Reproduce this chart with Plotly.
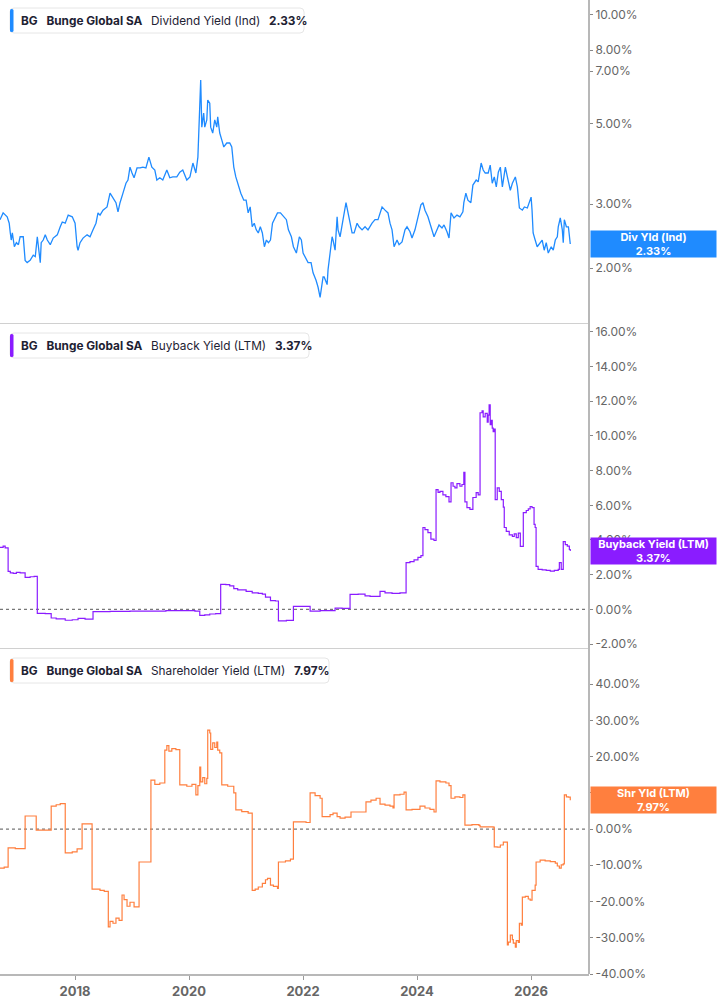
import math
import plotly.graph_objects as go

# ---------------- data ----------------
div_dates = [
    "2016-09-07","2016-09-27","2016-10-23","2016-11-05","2016-11-12","2016-11-18","2016-11-25","2016-12-08","2016-12-21",
    "2017-01-03","2017-01-14","2017-02-03","2017-02-15","2017-02-28","2017-03-19","2017-04-08","2017-04-21","2017-05-04",
    "2017-05-23","2017-05-29","2017-06-11","2017-06-24","2017-07-07","2017-07-26","2017-08-14","2017-09-09","2017-09-28",
    "2017-10-11","2017-10-30","2017-11-18","2017-12-14","2018-01-01","2018-01-14","2018-01-20","2018-02-02","2018-02-21",
    "2018-03-19","2018-04-07","2018-04-26","2018-05-15","2018-05-28","2018-06-10","2018-06-29","2018-07-25","2018-08-13",
    "2018-09-01","2018-09-20","2018-10-03","2018-10-16","2018-11-04","2018-11-23","2018-12-06","2018-12-19","2019-01-01",
    "2019-01-14","2019-02-02","2019-02-21","2019-03-12","2019-03-31","2019-04-19","2019-05-08","2019-05-27","2019-06-09",
    "2019-06-28","2019-07-17","2019-08-12","2019-08-31","2019-09-19","2019-10-15","2019-11-03","2019-11-22","2019-12-18",
    "2020-01-07","2020-01-26","2020-02-14","2020-02-27","2020-03-07","2020-03-16","2020-03-23","2020-04-04","2020-04-11",
    "2020-04-24","2020-04-30","2020-05-13","2020-05-19","2020-06-01","2020-06-14","2020-06-27","2020-07-03","2020-07-16",
    "2020-07-29","2020-08-11","2020-08-30","2020-09-18","2020-10-01","2020-10-14","2020-10-27","2020-11-15","2020-11-28",
    "2020-12-17","2021-01-01","2021-01-14","2021-01-27","2021-02-09","2021-02-22","2021-03-07","2021-03-20","2021-04-02",
    "2021-04-15","2021-04-28","2021-05-11","2021-05-24","2021-06-06","2021-06-19","2021-07-08","2021-07-21","2021-08-09",
    "2021-08-28","2021-09-16","2021-09-29","2021-10-18","2021-10-31","2021-11-19","2021-12-08","2021-12-21","2022-01-01",
    "2022-01-14","2022-02-02","2022-02-21","2022-03-06","2022-03-25","2022-04-07","2022-04-20","2022-05-03","2022-05-09",
    "2022-05-16","2022-05-29","2022-06-04","2022-06-10","2022-06-23","2022-07-06","2022-07-12","2022-07-25","2022-08-07",
    "2022-08-13","2022-08-26","2022-09-08","2022-09-14","2022-10-03","2022-10-16","2022-10-29","2022-11-11","2022-11-24",
    "2022-12-13","2022-12-26","2023-01-14","2023-02-02","2023-02-21","2023-03-19","2023-04-07","2023-04-26","2023-05-09",
    "2023-05-22","2023-06-10","2023-06-29","2023-07-12","2023-07-25","2023-08-07","2023-08-26","2023-09-08","2023-09-27",
    "2023-10-16","2023-10-29","2023-11-17","2023-11-30","2023-12-19","2024-01-07","2024-01-26","2024-02-08","2024-02-21",
    "2024-03-11","2024-04-06","2024-04-19","2024-05-08","2024-05-21","2024-06-09","2024-06-22","2024-07-11","2024-07-24",
    "2024-08-06","2024-08-25","2024-09-13","2024-10-02","2024-10-21","2024-10-27","2024-11-09","2024-11-22","2024-12-11",
    "2024-12-24","2025-01-14","2025-01-27","2025-02-15","2025-02-28","2025-03-13","2025-04-01","2025-04-14","2025-04-27",
    "2025-05-10","2025-05-23","2025-06-05","2025-06-18","2025-07-01","2025-07-20","2025-08-02","2025-08-21","2025-09-03",
    "2025-09-22","2025-10-05","2025-10-18","2025-11-06","2025-11-19","2025-12-08","2025-12-21","2026-01-01","2026-01-07",
    "2026-01-14","2026-01-27","2026-02-09","2026-03-13","2026-03-26","2026-04-08","2026-04-21","2026-05-10","2026-05-23",
    "2026-06-05","2026-06-18","2026-06-24","2026-07-07","2026-07-20","2026-07-26","2026-08-02","2026-08-15","2026-08-28",
    "2026-09-03","2026-09-09",
]
div_yield = [
    2.72,2.84,2.77,2.66,2.50,2.39,2.50,2.29,2.35,
    2.32,2.44,2.44,2.10,2.07,2.10,2.17,2.15,2.44,
    2.07,2.35,2.39,2.47,2.39,2.32,2.42,2.47,2.60,
    2.68,2.66,2.80,2.77,2.66,2.29,2.24,2.35,2.42,
    2.47,2.44,2.55,2.66,2.84,2.80,2.89,2.95,3.22,
    3.12,3.03,2.86,3.03,3.22,3.43,3.50,3.80,3.66,
    3.55,3.78,3.78,3.80,3.78,4.05,3.80,3.73,3.50,
    3.55,3.50,3.73,3.55,3.57,3.57,3.68,3.73,3.50,
    3.57,3.90,3.66,4.05,5.47,6.61,4.90,5.36,4.90,
    5.13,5.82,5.71,4.90,4.72,5.13,4.90,5.23,4.72,
    4.52,4.32,4.43,4.43,4.32,3.80,3.57,3.35,3.22,
    3.08,3.08,2.84,2.95,2.60,2.66,2.55,2.50,2.60,
    2.50,2.29,2.39,2.35,2.39,2.66,2.77,2.84,2.84,
    2.77,2.72,2.55,2.44,2.29,2.20,2.44,2.39,2.20,
    2.15,2.07,2.07,1.94,1.85,1.77,1.66,1.82,1.89,
    1.89,1.82,1.80,1.98,2.20,2.44,2.39,2.24,2.77,
    2.55,2.44,2.66,2.72,3.03,2.84,2.72,2.50,2.50,
    2.66,2.60,2.55,2.60,2.55,2.66,2.72,2.72,2.84,
    2.95,2.89,2.84,2.66,2.55,2.29,2.39,2.32,2.36,
    2.55,2.60,2.52,2.42,2.55,2.77,2.99,3.03,2.89,
    2.77,2.55,2.44,2.55,2.63,2.58,2.63,2.52,2.42,
    2.84,2.75,2.80,2.77,2.86,3.03,3.22,3.08,3.03,
    3.39,3.50,3.46,3.90,3.73,3.66,3.66,3.85,3.43,
    3.57,3.35,3.68,3.80,3.35,3.80,3.57,3.28,3.43,
    3.57,3.35,2.93,2.89,2.95,2.93,3.05,3.14,2.89,
    2.50,2.39,2.29,2.39,2.24,2.35,2.20,2.29,2.24,
    2.39,2.44,2.60,2.75,2.55,2.35,2.72,2.60,2.60,
    2.44,2.33,
]

bb_dates = [
    "2016-09-07","2016-09-27","2016-10-10","2016-10-29","2016-11-12","2016-12-01","2016-12-21","2017-01-14","2017-02-15",
    "2017-03-19","2017-04-14","2017-05-04","2017-06-24","2017-08-01","2017-09-02","2017-10-30","2017-12-14","2018-01-20",
    "2018-03-06","2018-04-26","2018-08-13","2018-12-19","2019-04-25","2019-08-06","2019-12-12","2020-02-08","2020-03-10",
    "2020-04-11","2020-05-13","2020-06-20","2020-07-22","2020-08-24","2020-09-18","2020-10-14","2020-11-08","2021-01-01",
    "2021-02-09","2021-03-20","2021-04-15","2021-05-05","2021-06-06","2021-07-08","2021-07-27","2021-09-16","2021-10-31",
    "2021-12-15","2022-02-15","2022-04-20","2022-07-25","2022-09-08","2022-10-29","2022-12-20","2023-02-02","2023-03-06",
    "2023-04-20","2023-05-09","2023-06-10","2023-07-25","2023-09-14","2023-10-23","2023-11-17","2023-12-13","2024-01-07",
    "2024-01-26","2024-02-08","2024-02-21","2024-03-11","2024-03-30","2024-04-19","2024-05-02","2024-05-15","2024-05-27",
    "2024-06-15","2024-07-04","2024-07-24","2024-08-06","2024-08-19","2024-08-31","2024-09-13","2024-10-02","2024-10-15",
    "2024-10-27","2024-11-03","2024-11-16","2024-12-05","2024-12-24","2025-01-14","2025-01-27","2025-02-08","2025-02-21",
    "2025-02-28","2025-03-13","2025-03-26","2025-04-01","2025-04-07","2025-04-14","2025-04-20","2025-04-27","2025-05-03",
    "2025-05-10","2025-05-16","2025-05-29","2025-06-11","2025-06-24","2025-07-07","2025-07-13","2025-07-26","2025-08-14",
    "2025-09-03","2025-09-15","2025-09-28","2025-10-11","2025-10-24","2025-11-12","2025-12-01","2025-12-14","2025-12-26",
    "2026-01-07","2026-01-20","2026-01-27","2026-02-02","2026-02-15","2026-03-13","2026-04-08","2026-05-04","2026-05-30",
    "2026-06-24","2026-07-01","2026-07-13","2026-07-26","2026-08-08","2026-08-21","2026-09-03","2026-09-09",
]
bb_yield = [
    3.57,3.65,3.55,2.19,2.10,2.07,2.13,2.10,1.84,
    1.88,1.90,-0.23,-0.25,-0.50,-0.55,-0.63,-0.60,-0.52,
    -0.57,-0.13,-0.12,-0.10,-0.10,-0.08,-0.08,-0.10,-0.35,
    -0.32,-0.27,-0.25,1.44,1.42,1.35,1.20,1.12,1.04,
    0.95,0.92,0.88,0.71,0.50,0.48,-0.67,-0.64,0.17,
    0.17,-0.10,-0.08,0.07,0.05,0.86,0.88,0.78,0.75,
    0.75,1.04,0.95,0.92,0.95,2.70,2.75,2.85,3.00,
    3.10,4.72,4.60,4.43,4.05,3.97,6.90,6.75,6.80,
    6.60,6.50,6.20,7.30,7.10,7.00,7.25,7.10,7.20,
    7.90,6.20,5.87,5.76,6.45,6.73,6.60,11.34,11.45,
    11.10,11.30,10.80,11.20,11.80,10.65,10.90,10.45,10.25,
    10.40,6.33,7.00,6.80,6.33,5.90,4.72,4.50,4.30,
    4.20,4.35,4.14,4.40,3.63,5.58,5.70,5.80,5.93,
    5.87,4.90,4.72,2.48,2.30,2.28,2.25,2.20,2.25,
    2.30,2.70,2.30,3.90,3.73,3.65,3.45,3.37,
]

sh_dates = [
    "2016-09-07","2016-10-04","2016-10-29","2016-12-14","2017-02-15","2017-04-27","2017-08-01","2017-09-02","2017-09-28",
    "2017-10-30","2017-12-14","2018-01-14","2018-02-15","2018-04-20","2018-06-10","2018-07-07","2018-08-02","2018-08-13",
    "2018-09-01","2018-09-20","2018-10-10","2018-10-29","2018-11-11","2018-11-30","2018-12-19","2019-01-14","2019-02-15",
    "2019-05-02","2019-05-27","2019-06-28","2019-07-30","2019-08-12","2019-08-25","2019-09-13","2019-10-09","2019-11-03",
    "2019-12-18","2020-01-20","2020-02-14","2020-02-27","2020-03-10","2020-03-16","2020-03-29","2020-04-11","2020-04-24",
    "2020-04-30","2020-05-13","2020-05-19","2020-06-01","2020-06-14","2020-06-27","2020-07-03","2020-07-16","2020-07-29",
    "2020-09-05","2020-10-14","2020-10-27","2020-12-04","2021-01-14","2021-02-09","2021-02-28","2021-03-20","2021-04-15",
    "2021-05-05","2021-05-18","2021-06-06","2021-06-25","2021-07-21","2021-07-27","2021-09-10","2021-10-12","2021-10-31",
    "2021-12-21","2022-01-20","2022-02-15","2022-03-19","2022-04-20","2022-05-03","2022-06-23","2022-07-12","2022-08-07",
    "2022-08-26","2022-09-27","2022-11-04","2023-01-01","2023-02-08","2023-03-12","2023-04-14","2023-05-09","2023-06-10",
    "2023-07-12","2023-07-31","2023-08-07","2023-09-14","2023-10-10","2023-10-23","2023-11-30","2024-01-20","2024-02-21",
    "2024-03-24","2024-04-19","2024-05-02","2024-05-27","2024-07-04","2024-07-24","2024-08-06","2024-08-31","2024-10-02",
    "2024-10-21","2024-11-03","2024-12-18","2025-02-01","2025-02-08","2025-05-03","2025-05-10","2025-05-29","2025-06-18",
    "2025-07-07","2025-08-02","2025-08-08","2025-08-21","2025-09-03","2025-09-09","2025-09-22","2025-09-28","2025-10-11",
    "2025-10-18","2025-10-30","2025-11-06","2025-11-25","2025-12-14","2025-12-26","2026-01-07","2026-01-27","2026-02-02",
    "2026-02-28","2026-04-01","2026-05-04","2026-06-05","2026-06-18","2026-07-01","2026-07-13","2026-07-26","2026-08-02",
    "2026-08-15","2026-08-28","2026-09-09",
]
sh_yield = [
    -10.8,-10.5,-5.2,-5.4,3.6,-0.3,6.3,6.7,7.0,
    -6.6,-6.3,-5.5,1.4,-16.6,-16.9,-17.2,-27.0,-25.5,
    -26.0,-24.6,-25.2,-18.2,-19.5,-21.3,-20.2,-21.5,-9.1,
    13.5,12.3,12.7,21.8,23.0,21.5,22.2,21.9,12.2,
    11.8,12.3,9.4,12.0,17.1,13.0,14.2,12.5,14.0,
    27.3,26.5,22.0,23.8,22.5,24.0,21.8,21.0,12.2,
    11.8,10.0,5.3,4.8,4.4,-16.9,-16.6,-16.0,-15.0,
    -14.0,-13.6,-15.5,-15.8,-16.4,-9.1,-8.8,-8.3,2.0,
    2.0,1.8,10.0,9.2,8.5,3.4,4.0,4.4,3.4,
    3.0,3.3,4.7,4.7,7.5,8.0,8.5,6.9,6.6,
    6.3,5.8,9.4,9.6,10.2,5.3,5.4,6.3,5.8,
    5.4,4.7,13.3,13.0,12.7,12.0,8.5,8.9,8.7,
    9.4,1.1,1.2,1.0,0.6,0.5,-4.9,-5.0,-4.4,
    -3.6,-32.0,-31.2,-29.3,-30.5,-31.5,-32.6,-30.8,-31.3,
    -26.0,-26.5,-18.8,-18.6,-19.3,-19.6,-16.9,-15.5,-9.1,
    -8.6,-8.8,-9.0,-9.4,-10.2,-10.8,-9.9,-9.6,9.4,
    8.9,8.8,7.97,
]

x_tick_dates = ["2018-01-01", "2020-01-01", "2022-01-01", "2024-01-01", "2026-01-01"]
x_tick_labels = ["2018", "2020", "2022", "2024", "2026"]
div_ticks = [2, 3, 5, 7, 8, 10]
bb_ticks = [-2, 0, 2, 4, 6, 8, 10, 12, 14, 16]
sh_ticks = [-40, -30, -20, -10, 0, 10, 20, 30, 40]

ticker = "BG"
company = "Bunge Global SA"
panels = [
    ("Dividend Yield (Ind)", "Div Yld (Ind)"),
    ("Buyback Yield (LTM)", "Buyback Yield (LTM)"),
    ("Shareholder Yield (LTM)", "Shr Yld (LTM)"),
]

# ---------------- style ----------------
BLUE = "#1f8bff"
PURPLE = "#8a1cff"
ORANGE = "#ff7f3e"
W, H = 717, 1005
PW, PH = 589, 974  # plot area in px
FONT = "Inter, Noto Sans, sans-serif"


def fx(p):
    return p / PW


def fy(p):
    return (PH - p) / PH


def rrect(x0, y0, x1, y1, r):
    return (f"M {fx(x0+r)},{fy(y0)} L {fx(x1-r)},{fy(y0)} Q {fx(x1)},{fy(y0)} {fx(x1)},{fy(y0+r)} "
            f"L {fx(x1)},{fy(y1-r)} Q {fx(x1)},{fy(y1)} {fx(x1-r)},{fy(y1)} "
            f"L {fx(x0+r)},{fy(y1)} Q {fx(x0)},{fy(y1)} {fx(x0)},{fy(y1-r)} "
            f"L {fx(x0)},{fy(y0+r)} Q {fx(x0)},{fy(y0)} {fx(x0+r)},{fy(y0)} Z")


fig = go.Figure()
fig.add_trace(go.Scatter(x=div_dates, y=div_yield, mode="lines", line=dict(color=BLUE, width=1.3),
                         xaxis="x", yaxis="y"))
fig.add_trace(go.Scatter(x=bb_dates, y=bb_yield, mode="lines", line=dict(color=PURPLE, width=1.2, shape="hv"),
                         xaxis="x2", yaxis="y2"))
fig.add_trace(go.Scatter(x=sh_dates, y=sh_yield, mode="lines", line=dict(color=ORANGE, width=1.2, shape="hv"),
                         xaxis="x3", yaxis="y3"))

xrange = ["2016-09-07", "2027-01-07"]
xcommon = dict(range=xrange, type="date", showgrid=False, zeroline=False)
tickfont = dict(family=FONT, size=12, color="#666666")

fig.update_layout(
    width=W, height=H,
    margin=dict(l=0, r=W - PW, t=0, b=H - PH),
    paper_bgcolor="white", plot_bgcolor="white",
    showlegend=False,
    font=dict(family=FONT),
    xaxis=dict(domain=[0, 1], anchor="y", showticklabels=False, ticks="", showline=True,
               linecolor="#d0d0d0", linewidth=1, **xcommon),
    xaxis2=dict(domain=[0, 1], anchor="y2", showticklabels=False, ticks="", showline=True,
                linecolor="#d0d0d0", linewidth=1, **xcommon),
    xaxis3=dict(domain=[0, 1], anchor="y3", showline=True, linecolor="#b8b8b8", linewidth=2,
                ticks="outside", ticklen=4, tickcolor="#999999",
                tickvals=x_tick_dates, ticktext=[f"<b>{t}</b>" for t in x_tick_labels],
                tickfont=dict(family=FONT, size=13, color="#666666"), **xcommon),
    yaxis=dict(domain=[fy(323), 1], anchor="x", side="right", type="log",
               range=[math.log10(1.41), math.log10(11.0)],
               tickvals=div_ticks, ticktext=[f"{v:.2f}%" for v in div_ticks],
               ticks="outside", ticklen=3, tickcolor="#888888", tickfont=tickfont,
               showgrid=False, zeroline=False, showline=False),
    yaxis2=dict(domain=[fy(648), fy(325)], anchor="x2", side="right",
                range=[-2.23, 16.4],
                tickvals=bb_ticks, ticktext=[f"{v:.2f}%" for v in bb_ticks],
                ticks="outside", ticklen=3, tickcolor="#888888", tickfont=tickfont,
                showgrid=False, zeroline=False, showline=False),
    yaxis3=dict(domain=[0, fy(650)], anchor="x3", side="right",
                range=[-40.0, 49.4],
                tickvals=sh_ticks, ticktext=[f"{v:.2f}%" for v in sh_ticks],
                ticks="outside", ticklen=3, tickcolor="#888888", tickfont=tickfont,
                showgrid=False, zeroline=False, showline=False),
)

shapes = []
# right vertical axis line through all panels
shapes.append(dict(type="line", xref="paper", yref="paper", x0=1, x1=1, y0=0, y1=1,
                   line=dict(color="#b8b8b8", width=2), layer="above"))
# dotted zero lines
for yref in ("y2", "y3"):
    shapes.append(dict(type="line", xref="paper", yref=yref, x0=0, x1=1, y0=0, y1=0,
                       line=dict(color="#777777", width=1.2, dash="dot"), layer="below"))

annotations = []
series_last = [div_yield[-1], bb_yield[-1], sh_yield[-1]]
colors = [BLUE, PURPLE, ORANGE]
panel_tops = [0, 325, 650]
box_widths = [294, 299, 319]
yrefs = ["y", "y2", "y3"]
gap = "\u00a0\u00a0\u2009"
for i, ((name, short), last, col, top, bw) in enumerate(zip(panels, series_last, colors, panel_tops, box_widths)):
    y0 = top + 8
    y1 = top + 33
    shapes.append(dict(type="path", xref="paper", yref="paper", path=rrect(10, y0, 10 + bw, y1, 4),
                       fillcolor="white", line=dict(color="#e6e6e6", width=1), layer="above"))
    shapes.append(dict(type="path", xref="paper", yref="paper", path=rrect(10, y0 + 1, 13.5, y1 - 1, 1.5),
                       fillcolor=col, line=dict(width=0), layer="above"))
    txt = (f"<b>{ticker}</b>{gap}<b>{company}</b>{gap}{name}{gap}<b>{last:.2f}%</b>")
    annotations.append(dict(xref="paper", yref="paper", x=fx(19), y=fy((y0 + y1) / 2),
                            xanchor="left", yanchor="middle", text=txt, showarrow=False,
                            font=dict(family=FONT, size=11.8, color="#1e2233")))
    # right value label
    yv = math.log10(last) if i == 0 else last
    annotations.append(dict(xref="paper", yref=yrefs[i], x=fx(590), y=yv, xanchor="left", yanchor="middle",
                            text=f"<b>{short}</b><br><b>{last:.2f}%</b>", showarrow=False,
                            bgcolor=col, width=125, height=26, borderpad=0, align="center",
                            font=dict(family=FONT, size=11, color="white")))

fig.update_layout(shapes=shapes, annotations=annotations)
fig.write_html("out.html", config={"displayModeBar": False},
               post_script="document.body.style.margin='0';document.body.style.overflow='hidden';")
